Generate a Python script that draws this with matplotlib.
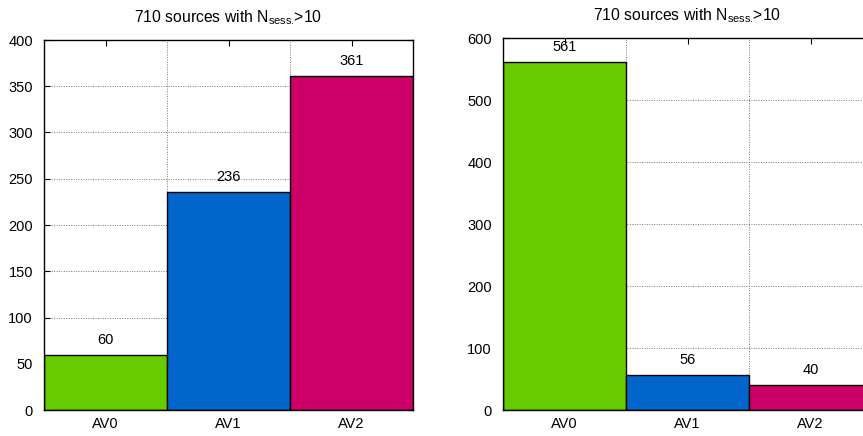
import matplotlib
matplotlib.use("Agg")
import matplotlib.pyplot as plt
import numpy as np

plt.rcParams['font.family'] = ['Liberation Sans', 'DejaVu Sans']
plt.rcParams['mathtext.fontset'] = 'custom'
plt.rcParams['mathtext.rm'] = 'Liberation Sans'

categories = ["AV0", "AV1", "AV2"]
left_values = [60, 236, 361]
right_values = [561, 56, 40]
colors = ["#66cc00", "#0066cc", "#cc0066"]
title = r"710 sources with N$_{\mathregular{sess.}}\!$>10"

FS = 10.5
W, H = 863, 436
fig = plt.figure(figsize=(W/100, H/100), dpi=100)

def make_ax(x0, x1, y_top, y_bot, values, ymax, ystep):
    ax = fig.add_axes([x0/W, 1 - y_bot/H, (x1-x0)/W, (y_bot-y_top)/H])
    x = np.arange(len(categories))
    ax.bar(x, values, width=1.0, color=colors, edgecolor="black", linewidth=1.0, zorder=3)
    for xi, v in zip(x, values):
        ax.annotate(str(v), (xi, v), xytext=(0, 15), textcoords="offset pixels",
                    ha="center", va="center", fontsize=FS, zorder=4)
    ax.set_xlim(-0.5, len(categories) - 0.5)
    ax.set_ylim(0, ymax)
    ax.set_xticks(x)
    ax.set_xticklabels(categories)
    ax.set_xticks([0.5, 1.5], minor=True)
    ax.set_yticks(np.arange(0, ymax + 1, ystep))
    ax.tick_params(axis="both", which="major", direction="in", top=True, right=True,
                   length=4.5, width=0.8, labelsize=FS, color="black")
    ax.tick_params(axis="x", which="major", pad=5)
    ax.tick_params(axis="y", which="major", pad=8)
    ax.tick_params(axis="x", which="minor", length=0, top=False, bottom=False)
    ax.grid(True, axis="y", which="major", linestyle=(0, (1, 1.5)), color="#777777", linewidth=0.7, zorder=0)
    ax.grid(True, axis="x", which="minor", linestyle=(0, (1, 1.5)), color="#777777", linewidth=0.7, zorder=0)
    ax.grid(False, axis="x", which="major")
    ax.set_axisbelow(True)
    for s in ax.spines.values():
        s.set_linewidth(1.0)
        s.set_zorder(5)
    ax.set_title(title, fontsize=11.3, pad=13)
    return ax

make_ax(44, 413, 40, 410, left_values, 400, 50)
make_ax(503, 872, 38, 410, right_values, 600, 100)

fig.savefig("out.png", dpi=100)
